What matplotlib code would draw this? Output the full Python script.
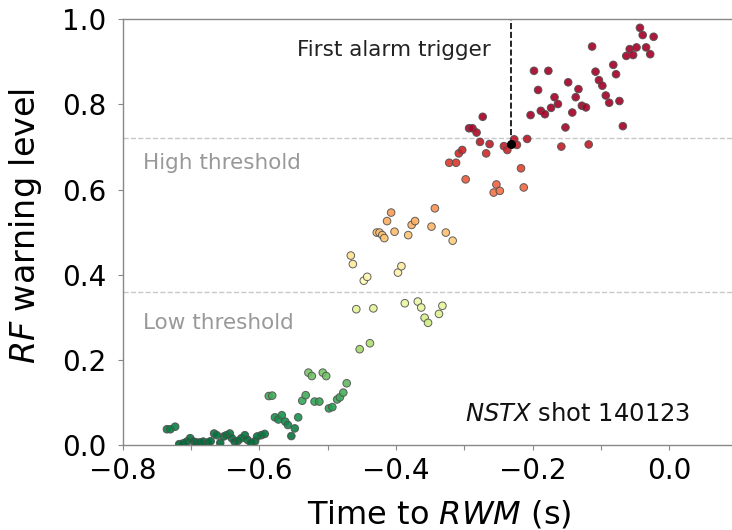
import matplotlib
matplotlib.use("Agg")
import matplotlib.pyplot as plt
import numpy as np
from matplotlib.colors import Normalize
from matplotlib.ticker import MultipleLocator

plt.rcParams['font.family'] = ['DejaVu Sans']
plt.rcParams['mathtext.fontset'] = 'custom'
plt.rcParams['mathtext.rm'] = 'DejaVu Sans'
plt.rcParams['mathtext.it'] = 'DejaVu Sans:italic'

# ---- data (time to RWM [s], RF warning level) ----
time_s = [
    -0.735, -0.730, -0.723,
    -0.717, -0.711, -0.706, -0.701, -0.696, -0.692, -0.687, -0.682, -0.675, -0.671,
    -0.666, -0.662, -0.657, -0.652, -0.648, -0.643, -0.640, -0.636, -0.631, -0.626,
    -0.621, -0.617, -0.612, -0.606, -0.603, -0.597, -0.592,
    -0.586, -0.581,
    -0.577, -0.572, -0.567, -0.562, -0.558, -0.553, -0.548, -0.543,
    -0.537, -0.532, -0.528, -0.523, -0.519, -0.512, -0.507, -0.502,
    -0.498, -0.493, -0.486, -0.482, -0.477, -0.472,
    -0.453, -0.438, -0.458, -0.433,
    -0.466, -0.463, -0.447, -0.442, -0.397, -0.392,
    -0.387, -0.368, -0.363, -0.358, -0.353, -0.337, -0.332,
    -0.428, -0.424, -0.420, -0.417, -0.413, -0.407, -0.402, -0.382, -0.377, -0.372,
    -0.348, -0.343, -0.327, -0.317,
    -0.298, -0.322, -0.312, -0.308, -0.303, -0.293, -0.288, -0.282, -0.273, -0.277,
    -0.268, -0.263, -0.253, -0.257, -0.248, -0.242, -0.237, -0.227, -0.223, -0.217,
    -0.213, -0.208, -0.203, -0.198, -0.192, -0.188, -0.182, -0.177, -0.173, -0.168,
    -0.163, -0.158, -0.152, -0.148, -0.142, -0.137, -0.133, -0.128, -0.122, -0.118,
    -0.113, -0.108, -0.103, -0.098, -0.093, -0.088, -0.082, -0.078, -0.073, -0.068,
    -0.063, -0.058, -0.053, -0.048, -0.043, -0.039, -0.034, -0.028, -0.023,
]
rf_level = [
    0.037, 0.037, 0.043,
    0.002, 0.004, 0.008, 0.016, 0.008, 0.006, 0.006, 0.008, 0.006, 0.009,
    0.027, 0.023, 0.005, 0.020, 0.023, 0.027, 0.016, 0.008, 0.010, 0.016,
    0.023, 0.012, 0.005, 0.009, 0.020, 0.023, 0.026,
    0.115, 0.116,
    0.065, 0.060, 0.070, 0.055, 0.047, 0.021, 0.039, 0.065,
    0.104, 0.117, 0.170, 0.162, 0.102, 0.102, 0.170, 0.162,
    0.086, 0.089, 0.107, 0.112, 0.123, 0.145,
    0.225, 0.239, 0.319, 0.321,
    0.445, 0.425, 0.386, 0.395, 0.405, 0.420,
    0.333, 0.337, 0.323, 0.299, 0.287, 0.308, 0.327,
    0.499, 0.499, 0.493, 0.486, 0.526, 0.546, 0.501, 0.493, 0.517, 0.526,
    0.513, 0.556, 0.499, 0.480,
    0.624, 0.663, 0.663, 0.685, 0.693, 0.744, 0.744, 0.734, 0.771, 0.712,
    0.685, 0.707, 0.612, 0.593, 0.597, 0.702, 0.693, 0.718, 0.705, 0.650,
    0.605, 0.719, 0.775, 0.879, 0.834, 0.785, 0.777, 0.879, 0.792, 0.817,
    0.801, 0.701, 0.746, 0.852, 0.781, 0.817, 0.836, 0.797, 0.793, 0.706,
    0.936, 0.877, 0.857, 0.844, 0.821, 0.804, 0.893, 0.871, 0.808, 0.749,
    0.914, 0.930, 0.916, 0.934, 0.980, 0.963, 0.934, 0.918, 0.959,
]

alarm_time = -0.232
alarm_level = 0.707
high_threshold = 0.72
low_threshold = 0.36

fig = plt.figure(figsize=(7.32, 5.30), dpi=100)
ax = fig.add_axes([122.5 / 732, 1 - 445 / 530, (737.7 - 122.5) / 732, (445 - 19.3) / 530])

norm = Normalize(vmin=0.0, vmax=0.75)
ax.scatter(time_s, rf_level, c=rf_level, cmap='RdYlGn_r', norm=norm, s=30,
           edgecolors='#505050', linewidths=0.7, alpha=0.9, zorder=3)
ax.scatter([alarm_time], [alarm_level], c='black', s=30, zorder=4)

ax.axhline(high_threshold, color='#c8c8c8', ls='--', lw=1.0, zorder=1)
ax.axhline(low_threshold, color='#c8c8c8', ls='--', lw=1.0, zorder=1)
ax.plot([alarm_time, alarm_time], [alarm_level, 1.0], color='black', ls='--', lw=1.2, zorder=2)

ax.text(-0.262, 0.928, 'First alarm trigger', ha='right', va='center', fontsize=15.5, color='#222222')
ax.text(-0.770, 0.662, 'High threshold', ha='left', va='center', fontsize=15.5, color='#999999')
ax.text(-0.770, 0.287, 'Low threshold', ha='left', va='center', fontsize=15.5, color='#999999')
ax.text(0.030, 0.073, r'$\mathit{NSTX}$ shot 140123', ha='right', va='center', fontsize=17.5, color='#111111')

ax.set_xlim(-0.8, 0.1)
ax.set_ylim(0.0, 1.0)
ax.xaxis.set_major_locator(MultipleLocator(0.2))
ax.xaxis.set_minor_locator(MultipleLocator(0.1))
ax.yaxis.set_major_locator(MultipleLocator(0.2))
ax.tick_params(axis='both', which='both', length=3.5, width=0.8, color='#888888', labelsize=20)
ax.tick_params(axis='y', pad=8)
ax.tick_params(axis='x', pad=5)
for sp in ax.spines.values():
    sp.set_color('#888888')
    sp.set_linewidth(1.0)

ax.set_xlabel(r'Time to $\mathit{RWM}$ (s)', fontsize=23)
ax.set_ylabel(r'$\mathit{RF}$ warning level', fontsize=24)
ax.xaxis.set_label_coords(0.515, -0.125)
ax.yaxis.set_label_coords(-0.128, 0.515)

fig.savefig('out.png', dpi=100)
